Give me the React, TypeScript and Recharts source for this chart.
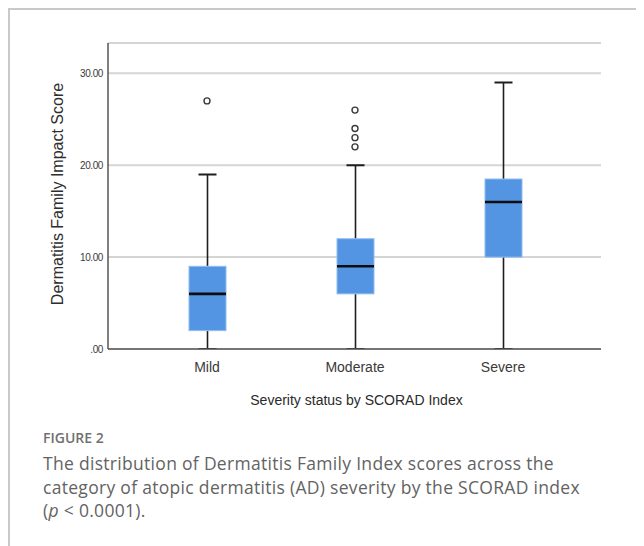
import React from 'react';
import { ComposedChart, Bar, Line, XAxis, YAxis, CartesianGrid } from 'recharts';

const categories = ['Mild', 'Moderate', 'Severe'];
const whiskerMin = [0, 0, 0];
const quartile1 = [2, 6, 10];
const medians = [6, 9, 16];
const quartile3 = [9, 12, 18.5];
const whiskerMax = [19, 20, 29];
const outlierA = [27, 26, null];
const outlierB = [null, 24, null];
const outlierC = [null, 23, null];
const outlierD = [null, 22, null];
const yTicks = [0, 10, 20, 30];
const yTickLabels = ['.00', '10.00', '20.00', '30.00'];

const data = categories.map((c, i) => ({
  cat: c,
  box: [quartile1[i], quartile3[i]],
  min: whiskerMin[i],
  q1: quartile1[i],
  med: medians[i],
  q3: quartile3[i],
  max: whiskerMax[i],
  oA: outlierA[i],
  oB: outlierB[i],
  oC: outlierC[i],
  oD: outlierD[i],
}));

const CHART_FONT = '"Liberation Sans", Arial, sans-serif';
const CAPTION_FONT = '"Open Sans", "Noto Sans", sans-serif';

const BoxShape = (props: any) => {
  const { x, y, width, height, payload } = props;
  if (height == null || !payload) return <g />;
  const ppu = height / (payload.q3 - payload.q1);
  const cx = x + width / 2;
  const yOf = (v: number) => y + (payload.q3 - v) * ppu;
  const cap = 9;
  const wc = '#1e1e1e';
  return (
    <g>
      <line x1={cx} x2={cx} y1={yOf(payload.max)} y2={y} stroke={wc} strokeWidth={1.6} />
      <line x1={cx} x2={cx} y1={y + height} y2={yOf(payload.min)} stroke={wc} strokeWidth={1.6} />
      <line x1={cx - cap} x2={cx + cap} y1={yOf(payload.max)} y2={yOf(payload.max)} stroke={wc} strokeWidth={2} />
      <line x1={cx - cap} x2={cx + cap} y1={yOf(payload.min)} y2={yOf(payload.min)} stroke={wc} strokeWidth={2} />
      <rect x={x} y={y} width={width} height={height} fill="#5394e3" stroke="#92bdf0" strokeWidth={1} />
      <line x1={x} x2={x + width} y1={yOf(payload.med)} y2={yOf(payload.med)} stroke="#0d0d0d" strokeWidth={2.6} />
    </g>
  );
};

const OutlierDot = (props: any) => {
  const { cx, cy, value, index } = props;
  if (value == null || cy == null || isNaN(cy)) return <g key={`e${index}`} />;
  return <circle key={`d${index}`} cx={cx} cy={cy} r={3} fill="#ffffff" stroke="#3a3a3a" strokeWidth={1.4} />;
};

const XTick = (props: any) => {
  const { x, y, payload } = props;
  return (
    <text x={x} y={y} dy={23} textAnchor="middle" fontFamily={CHART_FONT} fontSize={14} fill="#3a3a3a">
      {payload.value}
    </text>
  );
};

const YTick = (props: any) => {
  const { x, y, payload } = props;
  const idx = yTicks.indexOf(payload.value);
  return (
    <text x={x} y={y} dx={-5} dy={3.6} textAnchor="end" fontFamily={CHART_FONT} fontSize={10} fill="#3a3a3a" letterSpacing={-0.4}>
      {idx >= 0 ? yTickLabels[idx] : ''}
    </text>
  );
};

const YTitle = (props: any) => {
  const { viewBox } = props;
  const cx = 55;
  const cy = viewBox.y + viewBox.height / 2 - 2;
  return (
    <text x={cx} y={cy} transform={`rotate(-90 ${cx} ${cy})`} textAnchor="middle" fontFamily={CHART_FONT} fontSize={16} fill="#2e2e2e">
      Dermatitis Family Impact Score
    </text>
  );
};

const XTitle = (props: any) => {
  const { viewBox } = props;
  const cx = viewBox.x + viewBox.width / 2 + 2;
  return (
    <text x={cx} y={397} textAnchor="middle" fontFamily={CHART_FONT} fontSize={14} fill="#2a2a2a">
      Severity status by SCORAD Index
    </text>
  );
};

export default function App() {
  return (
    <div style={{ position: 'relative', width: 636, height: 538, background: '#ffffff' }}>
      <div style={{ position: 'absolute', left: 0, top: 0, width: 636, height: 1.5, background: '#c9c9c9' }} />
      <div style={{ position: 'absolute', left: 0, top: 0, width: 1.5, height: 538, background: '#c9c9c9' }} />
      <div style={{ position: 'absolute', left: 0, top: 0 }}>
        <ComposedChart
          width={636}
          height={400}
          data={data}
          margin={{ top: 35, right: 43, bottom: 0, left: 0 }}
          barSize={37}
        >
          <CartesianGrid vertical={false} stroke="#d5d5d5" strokeWidth={2} />
          <XAxis
            dataKey="cat"
            type="category"
            height={59}
            padding={{ left: 25, right: 24 }}
            axisLine={{ stroke: '#555555', strokeWidth: 1.5 }}
            tickLine={false}
            tickSize={0}
            tickMargin={0}
            tick={<XTick />}
            interval={0}
            label={<XTitle />}
          />
          <YAxis
            type="number"
            domain={[0, 33.3]}
            ticks={yTicks}
            width={100}
            allowDataOverflow
            axisLine={{ stroke: '#555555', strokeWidth: 1.5 }}
            tickLine={false}
            tickSize={0}
            tickMargin={0}
            tick={<YTick />}
            label={<YTitle />}
          />
          <Bar dataKey="box" shape={<BoxShape />} isAnimationActive={false} />
          <Line dataKey="oA" stroke="none" dot={<OutlierDot />} activeDot={false} isAnimationActive={false} />
          <Line dataKey="oB" stroke="none" dot={<OutlierDot />} activeDot={false} isAnimationActive={false} />
          <Line dataKey="oC" stroke="none" dot={<OutlierDot />} activeDot={false} isAnimationActive={false} />
          <Line dataKey="oD" stroke="none" dot={<OutlierDot />} activeDot={false} isAnimationActive={false} />
        </ComposedChart>
      </div>
      <svg style={{ position: 'absolute', left: 0, top: 0, pointerEvents: 'none' }} width={636} height={538}>
        <text x={35} y={435} fontFamily={CAPTION_FONT} fontWeight={600} fontSize={14} fill="#707070">
          FIGURE 2
        </text>
        <g fontFamily={CAPTION_FONT} fontSize={17.5} fill="#636363" letterSpacing={0.3}>
          <text x={35} y={462}>The distribution of Dermatitis Family Index scores across the</text>
          <text x={35} y={485.5}>category of atopic dermatitis (AD) severity by the SCORAD index</text>
          <text x={35} y={509}>
            (<tspan fontStyle="italic">p</tspan> &lt; 0.0001).
          </text>
        </g>
      </svg>
    </div>
  );
}
